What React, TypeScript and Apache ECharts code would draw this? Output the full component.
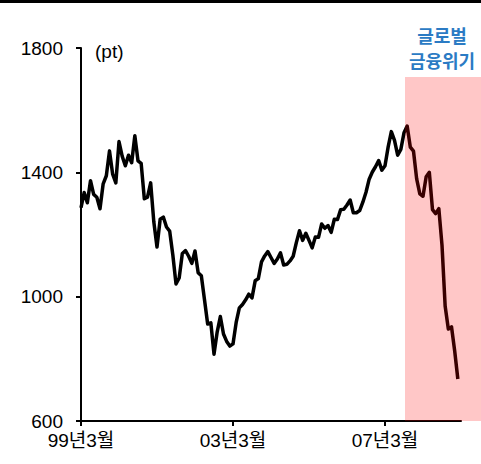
import React, { useEffect, useRef } from "react";
import * as echarts from "echarts";

// Monthly index values (pt), Mar 1999 – Feb 2009
const values1999 = [1286, 1335, 1302, 1373, 1329, 1320, 1283, 1363, 1389, 1469];
const values2000 = [1394, 1366, 1499, 1452, 1421, 1455, 1431, 1518, 1437, 1429, 1315, 1320];
const values2001 = [1366, 1240, 1160, 1249, 1256, 1224, 1211, 1134, 1041, 1060, 1139, 1148];
const values2002 = [1130, 1107, 1147, 1077, 1067, 990, 912, 916, 815, 886, 936, 880];
const values2003 = [856, 841, 848, 917, 964, 975, 990, 1008, 996, 1051, 1058, 1112];
const values2004 = [1131, 1145, 1126, 1107, 1121, 1141, 1102, 1104, 1115, 1130, 1174, 1212];
const values2005 = [1181, 1204, 1181, 1157, 1192, 1191, 1234, 1220, 1229, 1207, 1249, 1248];
const values2006 = [1280, 1281, 1295, 1311, 1270, 1270, 1277, 1304, 1336, 1378, 1401, 1418];
const values2007 = [1438, 1407, 1421, 1482, 1531, 1503, 1455, 1474, 1527, 1549, 1481, 1468];
const values2008 = [1379, 1331, 1323, 1386, 1400, 1280, 1267, 1283, 1166, 969, 896, 903];
const values2009 = [826, 735];

const seriesValues = [
  ...values1999, ...values2000, ...values2001, ...values2002, ...values2003,
  ...values2004, ...values2005, ...values2006, ...values2007, ...values2008, ...values2009,
];

// Category months: Mar 1999 .. Mar 2009 (121 months)
const startYear = 1999;
const startMonth = 3;
const monthCount = 121;
const categories: string[] = [];
for (let i = 0; i < monthCount; i++) {
  const t = startMonth - 1 + i;
  const y = startYear + Math.floor(t / 12);
  const m = (t % 12) + 1;
  categories.push(`${String(y % 100).padStart(2, "0")}년${m}월`);
}
const tickLabels = ["99년3월", "03년3월", "07년3월"];

const yTicks = { min: 600, max: 1800, interval: 400 };
const unitLabel = "(pt)";
const crisisLabelLines = ["글로벌", "금융위기"];

export default function App() {
  const ref = useRef<HTMLDivElement>(null);
  useEffect(() => {
    if (!ref.current) return;
    const chart = echarts.init(ref.current, null, { renderer: "svg" });
    const isTick = (idx: number) => tickLabels.includes(categories[idx]);
    const fontLatin = "'Liberation Sans', Arial, 'Noto Sans CJK KR', sans-serif";
    chart.setOption({
      animation: false,
      backgroundColor: "#ffffff",
      grid: { left: 81, right: 20, top: 48, bottom: 43, containLabel: false },
      xAxis: {
        type: "category",
        data: categories,
        boundaryGap: false,
        axisLine: { show: true, lineStyle: { color: "#000", width: 2 } },
        axisTick: {
          show: true,
          length: 5,
          interval: (idx: number) => isTick(idx),
          lineStyle: { color: "#000", width: 2 },
        },
        axisLabel: {
          show: true,
          interval: (idx: number) => isTick(idx),
          color: "#000",
          fontSize: 19,
          lineHeight: 19,
          fontFamily: fontLatin,
          margin: 10,
        },
        splitLine: { show: false },
      },
      yAxis: {
        type: "value",
        min: yTicks.min,
        max: yTicks.max,
        interval: yTicks.interval,
        axisLine: { show: true, lineStyle: { color: "#000", width: 2 } },
        axisTick: { show: true, length: 5, lineStyle: { color: "#000", width: 2 } },
        axisLabel: {
          color: "#000",
          fontSize: 19,
          lineHeight: 19,
          fontFamily: fontLatin,
          margin: 18,
          formatter: (v: number) => String(v),
        },
        splitLine: { show: false },
      },
      series: [
        {
          type: "line",
          data: seriesValues,
          symbol: "none",
          z: 2,
          lineStyle: { color: "#000", width: 3.5, join: "round" },
        },
      ],
      graphic: [
        { type: "rect", left: 0, top: 0, shape: { width: 481, height: 3 }, style: { fill: "#000" }, z: 100 },
        {
          type: "rect",
          x: 405,
          y: 77,
          shape: { width: 76, height: 344 },
          style: { fill: "rgba(255,0,0,0.22)" },
          z: 100,
          silent: true,
        },
        {
          type: "text",
          x: 95,
          y: 51,
          style: { text: unitLabel, fill: "#000", fontSize: 19, fontFamily: fontLatin, textVerticalAlign: "middle" },
          z: 100,
        },
        {
          type: "text",
          x: 442,
          y: 35,
          style: {
            text: crisisLabelLines[0],
            fill: "#2B7BC4",
            fontSize: 18,
            fontWeight: "bold",
            fontFamily: "'Noto Sans CJK KR', sans-serif",
            textAlign: "center",
            textVerticalAlign: "middle",
          },
          z: 100,
        },
        {
          type: "text",
          x: 442,
          y: 60,
          style: {
            text: crisisLabelLines[1],
            fill: "#2B7BC4",
            fontSize: 18,
            fontWeight: "bold",
            fontFamily: "'Noto Sans CJK KR', sans-serif",
            textAlign: "center",
            textVerticalAlign: "middle",
          },
          z: 100,
        },
      ],
    });
    return () => chart.dispose();
  }, []);
  return <div ref={ref} style={{ position: "fixed", left: 0, top: 0, width: 481, height: 464 }} />;
}
